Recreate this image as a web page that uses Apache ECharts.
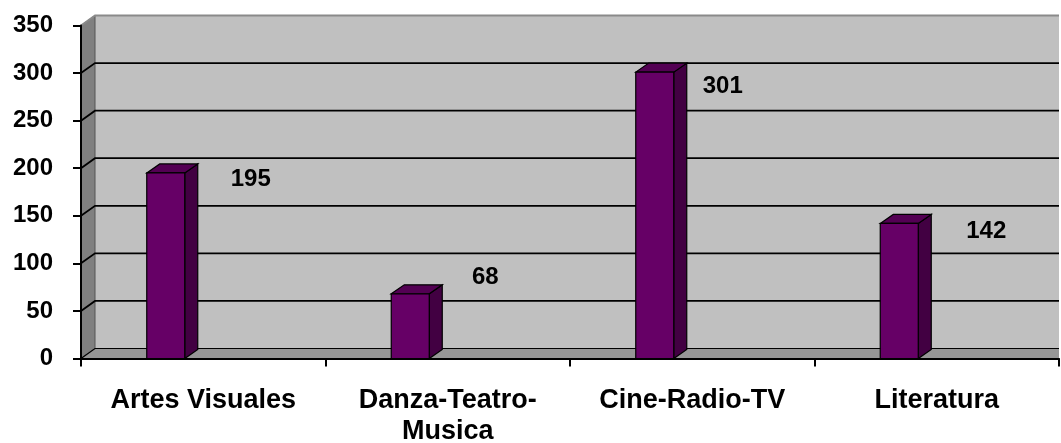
<!DOCTYPE html>
<html>
<head>
<meta charset="utf-8">
<script src="https://cdn.jsdelivr.net/npm/echarts@6/dist/echarts.min.js"></script>
<style>
html,body{margin:0;padding:0;background:#fff;}
#chart{width:1061px;height:443px;}
</style>
</head>
<body>
<div id="chart"></div>
<script>
// ---- data ----
const categories = ['Artes Visuales', 'Danza-Teatro-\nMusica', 'Cine-Radio-TV', 'Literatura'];
const values = [195, 68, 301, 142];
const yTicks = [0, 50, 100, 150, 200, 250, 300, 350];

// ---- layout / style constants ----
const FONT = '"Liberation Sans", Arial, sans-serif';
const WALL_DX = 14, WALL_DY = -10;   // 3D depth of the walls
const BAR_DX = 13, BAR_DY = -9;      // 3D depth of the bars
const BAR_W = 38;
const BAR_SHIFT = -37.5;             // bar front offset from category centre
const labelShift = [[85, 6], [75, -16], [68, 14], [87, 8]]; // label offsets from bar top centre

const chart = echarts.init(document.getElementById('chart'), null, {renderer: 'canvas'});

function renderWall(params, api) {
  const cs = params.coordSys;
  const v = api.value(1);
  const y = api.coord([0, v])[1];
  const x0 = cs.x, x1 = cs.x + cs.width;
  const yTop = cs.y, yBot = cs.y + cs.height;
  const children = [];
  if (params.dataIndex === 0) {
    children.push({type: 'rect', shape: {x: x0 + WALL_DX, y: yTop + WALL_DY, width: x1 - x0 - WALL_DX, height: yBot - yTop}, style: {fill: '#c0c0c0'}});
    children.push({type: 'polygon', shape: {points: [[x0, yTop], [x0 + WALL_DX, yTop + WALL_DY], [x0 + WALL_DX, yBot + WALL_DY], [x0, yBot]]}, style: {fill: '#808080', stroke: '#555', lineWidth: 1}});
    children.push({type: 'polygon', shape: {points: [[x0, yBot], [x0 + WALL_DX, yBot + WALL_DY], [x1, yBot + WALL_DY], [x1, yBot]]}, style: {fill: '#969696'}});
  }
  const col = v === 350 ? '#8a8a8a' : '#000';
  children.push({type: 'polyline', shape: {points: [[x0, y], [x0 + WALL_DX, y + WALL_DY], [x1, y + WALL_DY]]}, style: {stroke: col, lineWidth: v === 0 ? 1.2 : 1.8, fill: null}});
  return {type: 'group', children: children};
}

function renderBar(params, api) {
  const idx = api.value(0), v = api.value(1);
  const top = api.coord([idx, v]);
  const base = api.coord([idx, 0]);
  const cx = top[0] + BAR_SHIFT;
  const x0 = cx - BAR_W / 2, x1 = cx + BAR_W / 2;
  const yT = top[1], yB = base[1];
  const off = labelShift[params.dataIndex];
  return {type: 'group', children: [
    {type: 'polygon', shape: {points: [[x1, yT], [x1 + BAR_DX, yT + BAR_DY], [x1 + BAR_DX, yB + BAR_DY], [x1, yB]]}, style: {fill: '#420042', stroke: '#000', lineWidth: 1.2}},
    {type: 'polygon', shape: {points: [[x0, yT], [x0 + BAR_DX, yT + BAR_DY], [x1 + BAR_DX, yT + BAR_DY], [x1, yT]]}, style: {fill: '#530053', stroke: '#000', lineWidth: 1.2}},
    {type: 'rect', shape: {x: x0, y: yT, width: BAR_W, height: yB - yT}, style: {fill: '#660066', stroke: '#000', lineWidth: 1.2}},
    {type: 'text', style: {text: String(v), x: cx + off[0], y: yT + off[1], align: 'center', verticalAlign: 'middle', font: 'bold 24px ' + FONT, fill: '#000'}}
  ]};
}

const option = {
  animation: false,
  backgroundColor: '#ffffff',
  grid: {left: 81, right: 2, top: 25.5, bottom: 84.5, containLabel: false, outerBoundsMode: 'none'},
  xAxis: {
    type: 'category',
    data: categories,
    z: 5,
    axisLine: {show: true, lineStyle: {color: '#000', width: 2}},
    axisTick: {show: true, length: 8, lineStyle: {color: '#000', width: 2}},
    axisLabel: {color: '#000', fontFamily: FONT, fontWeight: 'bold', fontSize: 27, lineHeight: 31, margin: 27, interval: 0},
    splitLine: {show: false}
  },
  yAxis: {
    type: 'value',
    min: 0, max: 350, interval: 50,
    z: 5,
    axisLine: {show: true, lineStyle: {color: '#000', width: 2}},
    axisTick: {show: true, length: 8, lineStyle: {color: '#000', width: 2}},
    axisLabel: {color: '#000', fontFamily: FONT, fontWeight: 'bold', fontSize: 24, margin: 28},
    splitLine: {show: false}
  },
  series: [
    {type: 'custom', renderItem: renderWall, data: yTicks.map(v => [0, v]), encode: {x: 0, y: 1}, z: 1, silent: true},
    {type: 'custom', renderItem: renderBar, data: values.map((v, i) => [i, v]), encode: {x: 0, y: 1}, z: 2}
  ]
};
chart.setOption(option);
</script>
</body>
</html>
